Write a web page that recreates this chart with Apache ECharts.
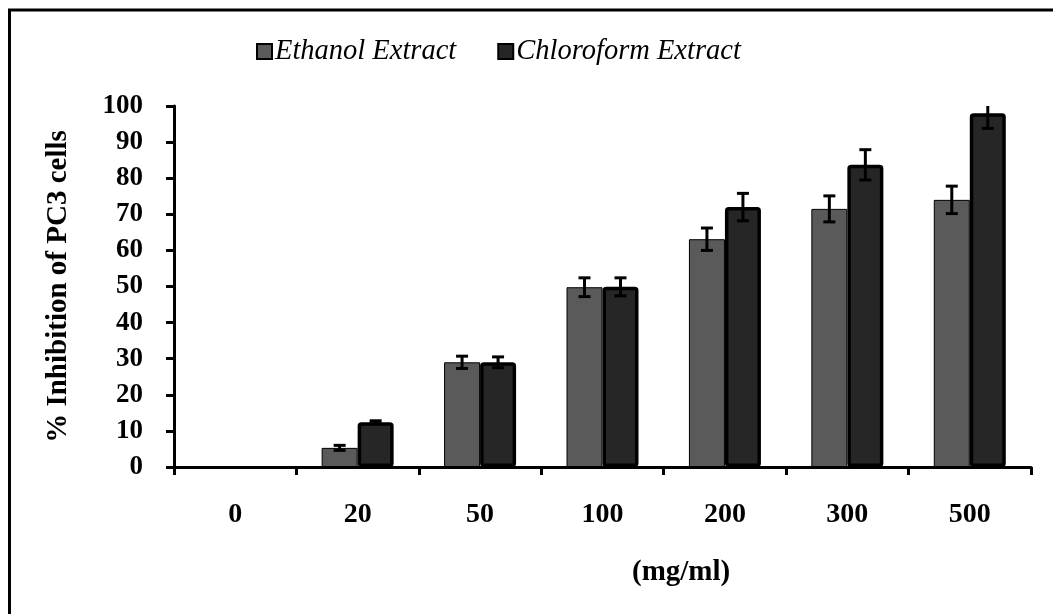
<!DOCTYPE html>
<html>
<head>
<meta charset="utf-8">
<script src="https://cdn.jsdelivr.net/npm/echarts@6/dist/echarts.min.js"></script>
<style>
  html, body { margin: 0; padding: 0; background: #fff; }
  #chart { width: 1053px; height: 614px; }
</style>
</head>
<body>
<div id="chart"></div>
<script>
const concentrations = ['0', '20', '50', '100', '200', '300', '500'];
const ethanol = [0, 5.3, 29.0, 49.8, 63.1, 71.5, 74.0];
const ethanolErr = [0, 0.7, 1.7, 2.6, 3.1, 3.6, 3.8];
const chloroform = [0, 12.4, 29.0, 49.9, 72.0, 83.7, 98.0];
const chloroformErr = [0, 0.4, 1.5, 2.5, 3.8, 4.2, 4.2];

const serif = 'Liberation Serif';
const barW = 36;

const myChart = echarts.init(document.getElementById('chart'));

// zero-height bars get no outline so nothing shows on the axis
const barData = (values) =>
  values.map((v) => (v === 0 ? { value: v, itemStyle: { borderWidth: 0 } } : v));

// I-beam error bars, shifted to sit on each bar of the pair
const errorSeries = (name, values, errs, shift) => ({
  name: name,
  type: 'custom',
  clip: true,
  silent: true,
  z: 5,
  data: values.map((v, i) => [i, v, errs[i]]),
  renderItem: (params, api) => {
    const err = api.value(2);
    if (!err) return null;
    const hi = api.coord([api.value(0), api.value(1) + err]);
    const lo = api.coord([api.value(0), api.value(1) - err]);
    const x = hi[0] + shift;
    const cap = 6;
    const style = { stroke: '#000', lineWidth: 3 };
    return {
      type: 'group',
      children: [
        { type: 'line', shape: { x1: x, y1: hi[1], x2: x, y2: lo[1] }, style: style },
        { type: 'line', shape: { x1: x - cap, y1: hi[1], x2: x + cap, y2: hi[1] }, style: style },
        { type: 'line', shape: { x1: x - cap, y1: lo[1], x2: x + cap, y2: lo[1] }, style: style },
      ],
    };
  },
});

const option = {
  animation: false,
  backgroundColor: '#fff',
  graphic: [
    {
      type: 'rect',
      shape: { x: 9.5, y: 10, width: 1200, height: 800 },
      style: { fill: 'none', stroke: '#000', lineWidth: 3 },
      silent: true,
    },
    {
      type: 'text',
      left: 632,
      top: 558,
      style: {
        text: '(mg/ml)',
        font: 'bold 29px "' + serif + '"',
        fill: '#000',
      },
    },
  ],
  legend: {
    data: ['Ethanol Extract', 'Chloroform Extract'],
    left: 251,
    top: 32,
    itemWidth: 15,
    itemHeight: 15,
    itemGap: 41,
    icon: 'rect',
    textStyle: {
      fontFamily: serif,
      fontStyle: 'italic',
      fontSize: 28.5,
      color: '#000',
      padding: [0, 0, 0, -2],
    },
  },
  grid: {
    left: 174,
    right: 22,
    top: 106,
    bottom: 147,
  },
  xAxis: {
    type: 'category',
    data: concentrations,
    axisLine: { lineStyle: { color: '#000', width: 3 } },
    axisTick: { show: true, length: 8, lineStyle: { color: '#000', width: 3 } },
    axisLabel: {
      color: '#000',
      fontFamily: serif,
      fontWeight: 'bold',
      fontSize: 28,
      margin: 34,
    },
  },
  yAxis: {
    type: 'value',
    min: 0,
    max: 100,
    interval: 10,
    name: '% Inhibition of PC3 cells',
    nameLocation: 'middle',
    nameGap: 101,
    nameTextStyle: {
      color: '#000',
      fontFamily: serif,
      fontWeight: 'bold',
      fontSize: 29,
    },
    splitLine: { show: false },
    axisLine: { show: true, lineStyle: { color: '#000', width: 3 } },
    axisTick: { show: true, length: 8, lineStyle: { color: '#000', width: 3 } },
    axisLabel: {
      color: '#000',
      fontFamily: serif,
      fontWeight: 'bold',
      fontSize: 27,
      margin: 31,
    },
  },
  series: [
    {
      name: 'Ethanol Extract',
      type: 'bar',
      barWidth: barW,
      barGap: '0%',
      data: barData(ethanol),
      itemStyle: { color: '#5a5a5a', borderColor: '#000', borderWidth: 1 },
    },
    {
      name: 'Chloroform Extract',
      type: 'bar',
      barWidth: barW,
      data: barData(chloroform),
      itemStyle: { color: '#262626', borderColor: '#000', borderWidth: 3.5, borderRadius: 2 },
    },
    errorSeries('Ethanol Extract', ethanol, ethanolErr, -barW / 2),
    errorSeries('Chloroform Extract', chloroform, chloroformErr, barW / 2),
  ],
};

myChart.setOption(option);
</script>
</body>
</html>
